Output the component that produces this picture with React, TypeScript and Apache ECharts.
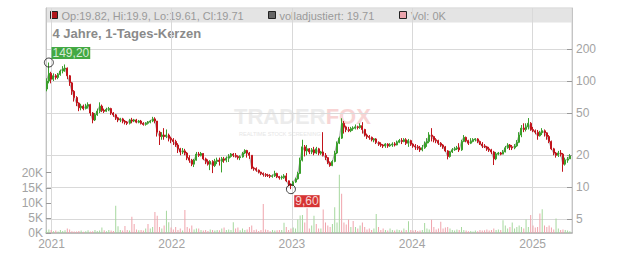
import React, { useEffect, useRef } from 'react';
import * as echarts from 'echarts';

// first weekly candle (mid-week) and week length
const firstWeek = Date.UTC(2020, 11, 17);
const WEEK = 7 * 86400000;

// weekly candles: [open, close, low, high]
const candles: number[][] = [
  [84,100,80,106],[100,118,95,149.2],[118,104,95,122],[104,112,100,118],[112,108,103,116],[108,115,104,119],[115,124,112,128],[124,130,118,138],
  [130,132,122,143],[132,112,104,134],[112,96,90,114],[96,80,74,98],[80,70,64,82],[70,62,58,72],[62,56,52,63],[56,58,53,61],
  [58,55,53,60],[55,58,54,61],[58,60,55,63],[60,50,47,61],[50,43,40,51],[43,48,42,50],[48,52,47,55],[52,58,50,63],
  [58,53,51,60],[53,52,50,55],[52,54,51,56],[54,55,52,57],[55,50,48,56],[50,48,46,51],[48,45,43,49],[45,43,41,46],
  [43,44,41,45],[44,42,40,45],[42,41,39,43],[41,40,38.5,42],[40,43,39,44],[43,42,40,45],[42,43,41,44],[43,41,40,44],
  [41,42,40,43],[42,40,39,43],[40,39,38,41],[39,40,38,41],[40,41,39,42],[41,42,40,43],[42,44,41,46],[44,42,40,45.6],
  [42,33,30,42],[33,30,25,34],[30,31,28,33],[31,30,28,36],[30,31,29,35],[31,29,27,32],[29,28,26,30],[28,27,25,29],
  [27,25,24,28],[25,23,21,26],[23,21.5,20,23.5],[21.5,22,20.5,23.4],[22,21,20,23],[21,19,18,21.5],[19,18,17,20],[18,16.5,15.8,18.5],
  [16.5,18,15.5,18.5],[18,20.5,17.8,21.5],[20.5,20,19.3,21.5],[20,20.8,19.5,21.5],[20.8,18.5,18,21],[18.5,17.5,16.5,19],[17.5,16.5,16,18.3],[16.5,17.5,14.5,18],
  [17.5,16,13.6,18],[16,17.5,15.5,18.5],[17.5,18,16.5,19],[18,17.5,16,19],[17.5,18.5,13.8,19.3],[18.5,18,17,19.3],[18,18.8,17.2,19.5],[18.8,19.5,17.3,20.5],
  [19.5,20.5,19,21],[20.5,20,19.2,21],[20,19.5,19,21],[19.5,19,18.2,20],[19,19.3,18,20],[19.3,21,19,21.5],[21,22.2,20.5,22.8],[22.2,21,19,22.5],
  [21,20,18.5,21.5],[20,15.2,14.8,20],[15.2,15,14.3,15.6],[15,14.5,14,15.4],[14.5,13.9,13.5,14.7],[13.9,13.5,13,14],[13.5,13.2,12.6,13.8],[13.2,13,12.5,13.6],
  [13,12.9,12.5,13.4],[12.9,12.7,12.2,13.3],[12.7,12.8,12.3,13.2],[12.8,13.5,12.5,14.3],[13.5,12.6,12.2,13.7],[12.6,12.3,11.8,12.8],[12.3,12.4,11.8,12.9],[12.4,12.8,12,13.3],
  [12.8,11.5,11.2,13.6],[11.5,10.5,10.2,11.6],[10.5,10.4,9.6,10.9],[10.4,11.2,10.3,11.5],[11.2,12,11,12.3],[12,13.5,11.8,14],[13.5,18,13.3,19],[18,24,17.5,28],
  [24,22,19.5,25],[22,23,20,25],[23,21.5,20.5,23.4],[21.5,22.5,20.5,23.4],[22.5,21,20,24],[21,23,20.5,24],[23,21,20,23.5],[21,21.5,20.2,22],
  [21.5,20,19.5,33],[20,19,18,21],[19,17,16.5,19.3],[17,16,15.6,17.5],[16,17.5,15.8,18],[17.5,21,17.2,22],[21,26,20.5,27],[26,29,25.5,30],
  [29,40,28.5,44.6],[40,37,32,42],[37,35,33,38],[35,34,33,37],[34,35.5,33,37],[35.5,36,34,37.5],[36,37,35,39],[37,36.5,35,38],
  [36.5,38,35.5,40],[38,35,32,41],[35,31,30,35.5],[31,30,28.5,32],[30,29.5,28,31],[29.5,28,27,30],[28,28.5,26.5,29],[28.5,26.5,25.5,29],
  [26.5,25.5,24.5,27],[25.5,25,24,26.5],[25,24.5,23.4,25.5],[24.5,25.5,23.5,26],[25.5,24.5,23.5,26],[24.5,25,24,26],[25,25.5,24,26.5],[25.5,25,24.2,26.6],
  [25,26.5,24.8,27.5],[26.5,27.5,26,28.5],[27.5,27,25.5,29],[27,28,26.5,29],[28,26,25,29],[26,27.5,24,28.5],[27.5,25.5,24.5,28],[25.5,24.5,23.5,26],
  [24.5,24,22.5,25.5],[24,23.5,22.4,25],[23.5,22.5,21.5,24.5],[22.5,23.5,21.8,25],[23.5,26,23,27],[26,27,24,29],[27,31,26,33],[31,30,27,36],
  [30,28,26.5,30.5],[28,27.5,26,29],[27.5,26,25,28],[26,25,24,26.6],[25,24,23,25.5],[24,22,21.5,24.5],[22,19.5,18.3,22.4],[19.5,21.5,19,22],
  [21.5,22.5,21,23.4],[22.5,23,22,24],[23,23.5,22.4,24.5],[23.5,22.5,21.5,26],[22.5,27,22,28],[27,29.5,26.6,31],[29.5,27.5,26.5,30],[27.5,26,25,28],
  [26,27,25.5,29],[27,28,26.5,29],[28,28.5,27,29],[28.5,27,26,29],[27,25.5,25,27.5],[25.5,24.5,23.4,26.6],[24.5,24,23.4,25.5],[24,23,22,24.5],
  [23,22.5,21.5,24],[22.5,21.5,20.5,23],[21.5,18.5,16.2,22],[18.5,20.5,18,21.5],[20.5,21,20,21.5],[21,20.5,20,21.5],[20.5,21.5,20.5,22.4],[21.5,23.5,21.3,24.5],
  [23.5,25,23,26],[25,24,22.4,25.5],[24,23.5,22.4,25],[23.5,24.5,22.8,25.5],[24.5,26.5,24,27.8],[26.5,31,26,33],[31,36,29.6,38.5],[36,35,33,40],
  [35,37,33.5,40],[37,40,35,44.8],[40,35,34,41],[35,34,33,37],[34,33,31.5,35],[33,30.5,28,34.6],[30.5,32.5,30,34],[32.5,34,31,36],
  [34,32.5,30,35],[32.5,30,28,33],[30,27,26,31],[27,23,22.4,27.5],[23,21,20,23.5],[21,20,19,21.5],[20,21,19.3,22],[21,20.5,19.5,22.4],
  [20.5,16.5,14,21],[16.5,18,16,19],[18,18.5,17,19.3],[18.5,19.71,18.5,20.5]
];

// weekly volume in thousands; positive = up (green), negative = down (red)
const volumes: number[] = [
  0.8,1.2,-1.0,0.6,-0.8,0.5,1.0,0.7,
  0.9,-1.5,-1.2,-0.6,-0.5,-0.5,-0.7,0.8,
  -0.4,0.6,0.9,-0.5,-0.6,1.0,0.7,0.8,
  1.8,-0.9,0.6,1.0,-0.8,-0.7,9.0,2.2,
  1.0,-0.8,-2.3,-1.0,0.8,-5.4,-3.0,-1.2,
  0.9,-1.0,-0.8,1.5,-3.0,1.5,2.0,-7.0,
  -5.7,-2.0,1.5,-2.5,7.4,3.6,-1.8,-1.2,
  -2.0,-1.0,-1.5,0.8,-7.6,-2.0,-1.5,-2.5,
  1.2,1.5,-1.5,1.0,-0.8,-1.0,-0.7,1.2,
  -1.0,0.8,1.0,-0.9,1.5,-1.8,1.0,1.2,
  1.0,3.6,-1.5,-1.8,0.9,1.5,1.0,-1.2,
  -2.0,-2.5,-1.0,-1.2,-0.7,-1.0,-9.6,-1.2,
  -1.0,-0.6,1.0,0.8,-0.9,-1.0,1.0,3.4,
  -2.0,-1.0,-1.5,1.8,1.5,4.5,5.8,6.0,
  -3.5,-8.2,-1.5,2.5,5.7,-3.0,-1.5,1.5,
  -7.8,-3.5,-2.5,-2.0,3.0,8.5,3.5,19.3,
  -13.0,-3.5,-2.8,-4.5,2.0,-4.0,2.0,-1.5,
  2.5,-3.5,-2.0,-1.2,-1.5,-1.0,1.5,6.3,
  -2.0,-1.0,-1.5,1.0,-0.8,1.5,1.0,-0.8,
  1.2,1.0,-0.8,1.5,-1.0,3.9,-1.0,-0.8,
  -1.0,-0.7,-0.8,1.0,3.3,1.5,1.2,-4.4,
  -2.0,-1.2,-1.5,-3.7,-1.5,-1.8,-2.0,1.5,
  1.0,0.8,1.2,-1.0,2.0,1.0,-0.8,-0.6,
  0.7,0.5,0.8,-0.6,-1.0,-0.8,-0.9,-1.2,
  -0.8,-1.0,-1.5,1.0,1.2,-1.0,4.2,2.5,
  1.5,-2.0,3.5,1.5,2.0,2.5,2.0,-1.5,
  4.5,2.0,-6.0,-2.5,-1.8,-2.0,-6.5,7.9,
  -2.5,-2.0,-2.5,-1.8,-1.2,4.8,1.5,-1.0,
  -1.2,1.0,0.8,0.6
];

const yearTicks = [2021, 2022, 2023, 2024, 2025];
const priceTicks = [5, 10, 20, 50, 100, 200];
const volumeTicks = [0, 5000, 10000, 15000, 20000];
const legendOHLC = 'Op:19.82, Hi:19.9, Lo:19.61, Cl:19.71';
const legendAdjusted = 'volladjustiert: 19.71';
const legendVolume = 'Vol: 0K';
const titleText = '4 Jahre, 1-Tages-Kerzen';

const FONT = "'Liberation Sans', Arial, sans-serif";
const UP = '#3a9f2c';
const DOWN = '#c2141c';
const VOL_UP = '#a6d89e';
const VOL_DOWN = '#f0a4ac';
const AXIS_TEXT = '#a3a3a3';
const GRID_LINE = '#d9d9d9';

function buildOption() {
  const dates = candles.map((_, i) => firstWeek + i * WEEK);
  const candleData = candles.map((c, i) => [dates[i], c[0], c[1], c[2], c[3]]);
  const closeData = candles.map((c, i) => [dates[i], c[1]]);
  const volData = volumes.map((v, i) => ({
    value: [dates[i], Math.abs(v) * 1000],
    itemStyle: { color: v >= 0 ? VOL_UP : VOL_DOWN },
  }));
  let hiIdx = 0;
  let loIdx = 0;
  candles.forEach((c, i) => {
    if (c[3] > candles[hiIdx][3]) hiIdx = i;
    if (c[2] < candles[loIdx][2]) loIdx = i;
  });
  const fmt = (v: number) => v.toFixed(2).replace('.', ',');
  const yearTs = yearTicks.map((y) => Date.UTC(y, 0, 1));

  return {
    animation: false,
    textStyle: { fontFamily: FONT },
    grid: {
      left: 46, right: 60, top: 8, bottom: 20,
      show: true, borderColor: '#cfcfcf', borderWidth: 1, backgroundColor: 'transparent',
    },
    xAxis: {
      type: 'value',
      min: Date.UTC(2020, 11, 15, 7),
      max: Date.UTC(2025, 3, 30, 12),
      axisLine: { show: true, lineStyle: { color: '#b0b0b0', width: 1.5 } },
      axisTick: { show: false, customValues: yearTs },
      axisLabel: {
        customValues: yearTs,
        formatter: (v: number) => String(new Date(v).getUTCFullYear()),
        color: AXIS_TEXT, fontSize: 12, margin: 5, fontFamily: FONT,
      },
      splitLine: { show: true, lineStyle: { color: GRID_LINE, width: 1 } },
    },
    yAxis: [
      {
        type: 'log', logBase: 10, position: 'right', min: 3.715, max: 486,
        axisLine: { show: true, lineStyle: { color: '#c4c4c4' } },
        axisTick: { show: true, inside: true, length: 5, customValues: priceTicks, lineStyle: { color: '#9a9a9a' } },
        axisLabel: {
          customValues: priceTicks,
          formatter: (v: number) => String(Math.round(v)),
          color: AXIS_TEXT, fontSize: 12, margin: 4, fontFamily: FONT,
        },
        splitLine: { show: true, lineStyle: { color: GRID_LINE, width: 1 } },
      },
      {
        type: 'value', position: 'left', min: 0, max: 74600,
        axisLine: { show: true, lineStyle: { color: '#c4c4c4' } },
        axisTick: { show: true, inside: true, length: 5, customValues: volumeTicks, lineStyle: { color: '#9a9a9a' } },
        axisLabel: {
          customValues: volumeTicks,
          formatter: (v: number) => `${Math.round(v / 1000)}K`,
          color: AXIS_TEXT, fontSize: 12, margin: 3, fontFamily: FONT,
        },
        splitLine: { show: false },
      },
    ],
    graphic: [
      {
        type: 'rect', z: -1, silent: true,
        shape: { x: 46.5, y: 8.5, width: 525, height: 14 },
        style: { fill: '#e4e4e4' },
      },
      {
        type: 'text', z: -1, silent: true, x: 234, y: 116,
        style: {
          text: '{a|TRADER}{b|FOX}', verticalAlign: 'middle',
          rich: {
            a: { fontSize: 22, lineHeight: 18, fontWeight: 'bold', fontFamily: FONT, fill: '#ececec' },
            b: { fontSize: 22, lineHeight: 18, fontWeight: 'bold', fontFamily: FONT, fill: '#f8d4d4' },
          },
        } as any,
      },
      {
        type: 'text', z: -1, silent: true, x: 239, y: 134,
        style: { text: 'REALTIME STOCK SCREENING', fill: '#e6e6e6', font: `5.5px ${FONT}`, verticalAlign: 'middle' },
      },
      {
        type: 'rect', shape: { x: 50.5, y: 11.5, width: 7, height: 7 },
        style: { fill: '#b0161b', stroke: '#222', lineWidth: 1 },
      },
      {
        type: 'text', x: 61.5, y: 15.5,
        style: { text: legendOHLC, fill: '#9a9a9a', font: `11px ${FONT}`, verticalAlign: 'middle' },
      },
      {
        type: 'rect', shape: { x: 268.5, y: 11.5, width: 7, height: 7 },
        style: { fill: '#666666', stroke: '#222', lineWidth: 1 },
      },
      {
        type: 'text', x: 279.5, y: 15.5,
        style: { text: legendAdjusted, fill: '#9a9a9a', font: `11px ${FONT}`, verticalAlign: 'middle' },
      },
      {
        type: 'rect', shape: { x: 399.5, y: 11.5, width: 7, height: 7 },
        style: { fill: '#eaa4ac', stroke: '#222', lineWidth: 1 },
      },
      {
        type: 'text', x: 411, y: 15.5,
        style: { text: legendVolume, fill: '#9a9a9a', font: `11px ${FONT}`, verticalAlign: 'middle' },
      },
      {
        type: 'text', x: 52.5, y: 33.5,
        style: { text: titleText, fill: '#8a8a8a', font: `bold 13px ${FONT}`, verticalAlign: 'middle' },
      },
    ],
    series: [
      {
        type: 'bar', name: 'Vol', xAxisIndex: 0, yAxisIndex: 1,
        data: volData, barWidth: 1, z: 1,
      },
      {
        type: 'line', name: 'volladjustiert', xAxisIndex: 0, yAxisIndex: 0,
        data: closeData, showSymbol: false, symbol: 'none',
        lineStyle: { color: '#b4b4b4', width: 1.2 }, z: 2,
      },
      {
        type: 'candlestick', name: 'Kurs', xAxisIndex: 0, yAxisIndex: 0,
        data: candleData, encode: { x: 0, y: [1, 2, 3, 4] },
        barWidth: 1.5, z: 3,
        itemStyle: { color: UP, color0: DOWN, borderColor: UP, borderColor0: DOWN, borderWidth: 1 },
      },
      {
        type: 'scatter', name: 'extrema', xAxisIndex: 0, yAxisIndex: 0, z: 5,
        symbol: 'circle', symbolSize: 9,
        itemStyle: { color: 'rgba(0,0,0,0)', borderColor: '#111', borderWidth: 1 },
        data: [
          {
            value: [dates[hiIdx], candles[hiIdx][3]],
            label: {
              show: true, position: 'inside', offset: [22, -9.5],
              formatter: fmt(candles[hiIdx][3]), color: '#fff', fontSize: 12, fontFamily: FONT,
              backgroundColor: '#149414', padding: [0, 1], lineHeight: 12,
            },
          },
          {
            value: [dates[loIdx], candles[loIdx][2]],
            label: {
              show: true, position: 'inside', offset: [16, 12],
              formatter: fmt(candles[loIdx][2]), color: '#fff', fontSize: 12, fontFamily: FONT,
              backgroundColor: '#cc0000', padding: [0, 1], lineHeight: 12,
            },
          },
        ],
      },
    ],
  };
}

export default function App() {
  const ref = useRef<HTMLDivElement>(null);
  useEffect(() => {
    const chart = echarts.init(ref.current as HTMLDivElement, null, { renderer: 'svg' });
    chart.setOption(buildOption() as any);
    return () => chart.dispose();
  }, []);
  return (
    <div
      ref={ref}
      style={{ position: 'fixed', left: 0, top: 0, width: 632, height: 253, background: '#fff' }}
    />
  );
}
